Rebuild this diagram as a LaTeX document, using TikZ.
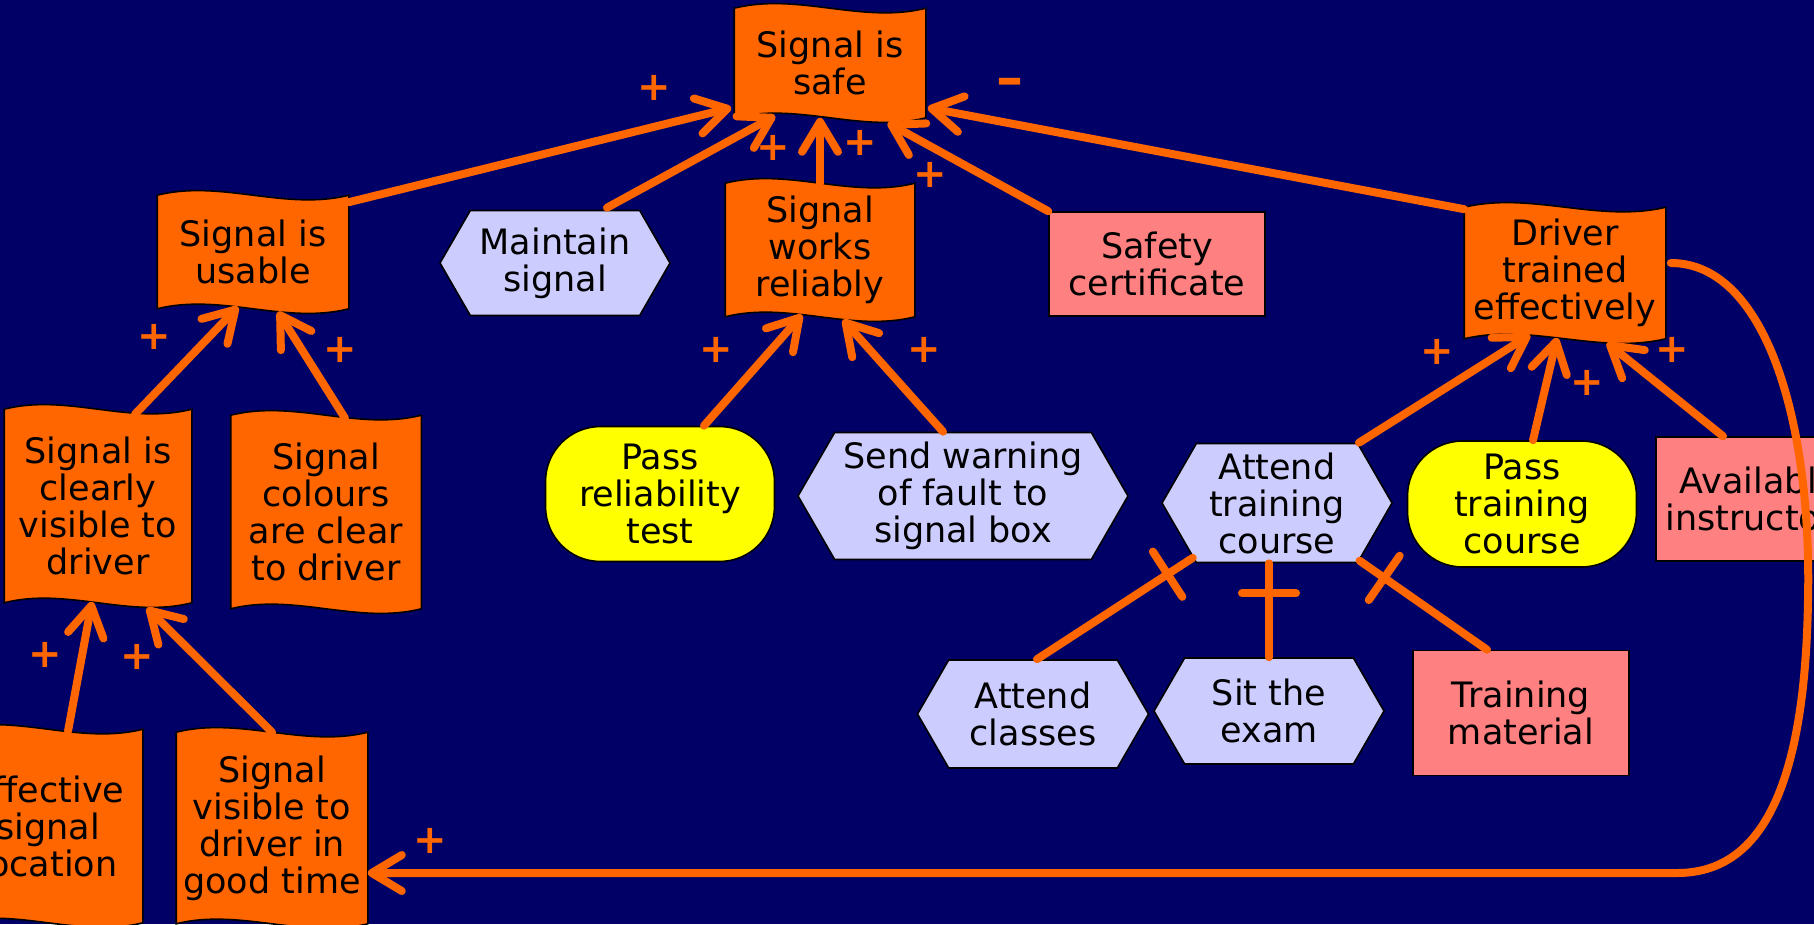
\documentclass[tikz,border=0pt]{standalone}
\usepackage{fontspec}
\setmainfont{DejaVu Sans}
\usetikzlibrary{arrows.meta,shapes.symbols,decorations.markings}

\definecolor{navybg}{HTML}{000066}
\definecolor{goalorange}{HTML}{FF6600}
\definecolor{tasklilac}{HTML}{CCCCFF}
\definecolor{softyellow}{HTML}{FFFF00}
\definecolor{respink}{HTML}{FF8080}

% wavy banner used for the goals
\def\flagwave{16pt}
\makeatletter
\pgfdeclareshape{flag}{
  \inheritsavedanchors[from=rectangle]
  \inheritanchorborder[from=rectangle]
  \inheritanchor[from=rectangle]{center}
  \inheritanchor[from=rectangle]{north}
  \inheritanchor[from=rectangle]{south}
  \inheritanchor[from=rectangle]{east}
  \inheritanchor[from=rectangle]{west}
  \inheritanchor[from=rectangle]{north east}
  \inheritanchor[from=rectangle]{north west}
  \inheritanchor[from=rectangle]{south east}
  \inheritanchor[from=rectangle]{south west}
  \inheritanchor[from=rectangle]{base}
  \inheritanchor[from=rectangle]{mid}
  \backgroundpath{%
    \southwest \edef\flagl{\the\pgf@x}\edef\flagb{\the\pgf@y}%
    \northeast \edef\flagr{\the\pgf@x}\edef\flagt{\the\pgf@y}%
    \pgfmathsetmacro\flagthird{(\flagr-\flagl)/3}%
    \edef\flagw{\flagthird pt}%
    \pgfpathmoveto{\pgfqpoint{\flagl}{\flagt}}%
    \pgfpathcurveto{\pgfpoint{\flagl+\flagw}{\flagt+\flagwave}}%
      {\pgfpoint{\flagr-\flagw}{\flagt-\flagwave}}{\pgfqpoint{\flagr}{\flagt}}%
    \pgfpathlineto{\pgfqpoint{\flagr}{\flagb}}%
    \pgfpathcurveto{\pgfpoint{\flagr-\flagw}{\flagb-\flagwave}}%
      {\pgfpoint{\flagl+\flagw}{\flagb+\flagwave}}{\pgfqpoint{\flagl}{\flagb}}%
    \pgfpathclose
  }
}
\makeatother

\tikzset{
  box/.style={draw=black, line width=1.6pt, align=center, inner sep=0pt, text=black,
    font=\fontsize{35}{37}\selectfont},
  kgoal/.style={box, shape=flag, fill=goalorange},
  ktask/.style={box, signal, signal to=east and west, signal pointer angle=120, fill=tasklilac},
  ksoft/.style={box, rounded corners=55pt, fill=softyellow},
  kres/.style={box, fill=respink},
  sign/.style={text=goalorange, inner sep=0pt, font=\fontsize{40}{40}\selectfont\bfseries},
  flow/.style={draw=goalorange, line width=8pt, line cap=round,
    -{Straight Barb[length=30pt, width=36pt, round]}},
  partof/.style={draw=goalorange, line width=8pt, line cap=round, postaction={decorate},
    decoration={markings, mark=at position -30pt with
      {\draw[goalorange, line width=8pt, line cap=round] (0pt,-27pt) -- (0pt,27pt);}}},
}

\begin{document}
\begin{tikzpicture}[x=1pt, y=-1pt]
    \fill[navybg] (0,0) rectangle (1814,924);
    \useasboundingbox (0,0) rectangle (1814,924);

    % goals
    \node[kgoal, minimum width=190pt, minimum height=108pt] (safe) at (830,63) {Signal is\\safe};
    \node[kgoal, minimum width=190pt, minimum height=112pt] (usable) at (253,252) {Signal is\\usable};
    \node[kgoal, minimum width=188pt, minimum height=132pt] (works) at (820,250) {Signal\\works\\reliably};
    \node[kgoal, minimum width=200pt, minimum height=130pt] (driver) at (1565,273) {Driver\\trained\\effectively};
    \node[kgoal, minimum width=186pt, minimum height=192pt] (visible) at (98,506) {Signal is\\clearly\\visible to\\driver};
    \node[kgoal, minimum width=189pt, minimum height=192pt] (colours) at (326,512) {Signal\\colours\\are clear\\to driver};
    \node[kgoal, minimum width=188pt, minimum height=192pt] (location) at (48,826) {Effective\\signal\\location};
    \node[kgoal, minimum width=190pt, minimum height=190pt] (intime) at (272,828) {Signal\\visible to\\driver in\\good time};

    % tasks
    \node[ktask, minimum width=230pt, minimum height=105pt] (maint) at (555,263) {Maintain\\signal};
    \node[ktask, minimum width=330pt, minimum height=127pt] (warn) at (963,496) {Send warning\\of fault to\\signal box};
    \node[ktask, minimum width=230pt, minimum height=119pt] (attend) at (1277,503) {Attend\\training\\course};
    \node[ktask, minimum width=231pt, minimum height=108pt] (classes) at (1033,714) {Attend\\classes};
    \node[ktask, minimum width=230pt, minimum height=106pt] (exam) at (1269,711) {Sit the\\exam};

    % softgoals and resources
    \node[ksoft, minimum width=229pt, minimum height=135pt] (passrel) at (660,494) {Pass\\reliability\\test};
    \node[ksoft, minimum width=229pt, minimum height=126pt] (passtrain) at (1522,504) {Pass\\training\\course};
    \node[kres, minimum width=216pt, minimum height=104pt] (cert) at (1157,264) {Safety\\certificate};
    \node[kres, minimum width=216pt, minimum height=125pt] (material) at (1521,713) {Training\\material};
    \node[kres, minimum width=206pt, minimum height=124pt] (instr) at (1759,499) {Available\\instructors};

    % contributions
    \draw[flow] ([shift={(0,7)}]usable.north east) -- ([shift={(-3,-10)}]safe.south west);
    \draw[flow] ([shift={(52,-2)}]maint.north) -- ([shift={(-55,-2)}]safe.south);
    \draw[flow] (works.north) -- (works.north |- safe.south);
    \draw[flow] (cert.north west) -- ([shift={(-38,5)}]safe.south east);
    \draw[flow] ([shift={(0,2)}]driver.north west) -- ([shift={(2,-10)}]safe.south east);
    \draw[flow] ([shift={(37,5)}]visible.north) -- ([shift={(-15,-2)}]usable.south);
    \draw[flow] ([shift={(19,3)}]colours.north) -- ([shift={(25,3)}]usable.south);
    \draw[flow] ([shift={(20,2)}]location.north) -- ([shift={(-6,-1)}]visible.south);
    \draw[flow] (intime.north) -- ([shift={(49,5)}]visible.south);
    \draw[flow] ([shift={(44,0)}]passrel.north) -- ([shift={(-18,-2)}]works.south);
    \draw[flow] ([shift={(-20,0)}]warn.north) -- ([shift={(23,3)}]works.south);
    \draw[flow] ([shift={(82,0)}]attend.north) -- ([shift={(-35,-4)}]driver.south);
    \draw[flow] ([shift={(11,0)}]passtrain.north) -- ([shift={(-8,-1)}]driver.south);
    \draw[flow] ([shift={(-36,0)}]instr.north) -- ([shift={(42,4)}]driver.south);

    % training loops back to the signal sighting
    \coordinate (bendA) at (1808,600);
    \coordinate (bendB) at (1677,873);
    \draw[flow] ([shift={(5,-10)}]driver.east) .. controls (1765,263) and (1812,420) .. (bendA)
      .. controls (1805,790) and (1760,873) .. (bendB) -- ([shift={(0,45)}]intime.east);

    % decomposition of the training task
    \draw[partof] ([shift={(4,0)}]classes.north) -- (attend);
    \draw[partof] (exam.north) -- (exam.north |- attend.south);
    \draw[partof] ([shift={(-34,0)}]material.north) -- (attend);

    % signs
    \node[sign] (s1) at (654,88) {+};
    \node[sign] (s2) at (773,148) {+};
    \node[sign] (s3) at (860,143) {+};
    \node[sign] (s4) at (930,175) {+};
    \node[sign, font=\fontsize{54}{54}\selectfont\bfseries] (m1) at (1010,87) {\textendash};
    \node[sign] (s5) at (154,337) {+};
    \node[sign] (s6) at (340,350) {+};
    \node[sign] (s7) at (716,350) {+};
    \node[sign] (s8) at (924,350) {+};
    \node[sign] (s9) at (1437,352) {+};
    \node[sign] (s10) at (1587,383) {+};
    \node[sign] (s11) at (1672,350) {+};
    \node[sign] (s12) at (45,655) {+};
    \node[sign] (s13) at (137,657) {+};
    \node[sign] (s14) at (430,841) {+};
  \end{tikzpicture}
\end{document}
